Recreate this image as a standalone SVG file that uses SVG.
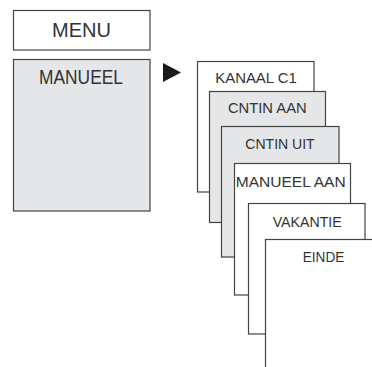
<svg xmlns="http://www.w3.org/2000/svg" width="372" height="367" viewBox="0 0 372 367">
<style>
.box{stroke:#444;stroke-width:1.2}
.w{fill:#ffffff}
.g{fill:#e5e6e8}
.t{font-family:"Liberation Sans",Arial,sans-serif;fill:#333;text-anchor:middle}
.big{font-size:19.5px}
.sm{font-size:15px}
</style>
<rect width="372" height="367" fill="#ffffff"/>
<g id="menu">
<rect class="box w" x="13.5" y="10.5" width="136.5" height="39.5"/>
<text class="t big" x="81.5" y="37.3" textLength="59" lengthAdjust="spacingAndGlyphs">MENU</text>
</g>
<g id="manueel">
<rect class="box g" x="13.5" y="59.5" width="136.5" height="151.5"/>
<text class="t big" x="81" y="84" textLength="84" lengthAdjust="spacingAndGlyphs">MANUEEL</text>
</g>
<g id="connectors">
<polygon points="163,63 181,72.5 163,82" fill="#1a1a1a"/>
</g>
<g id="kanaal-c1">
<rect class="box w" x="197.5" y="61.5" width="116.5" height="130.5"/>
<text class="t sm" x="256" y="82.7" textLength="81.5" lengthAdjust="spacingAndGlyphs">KANAAL C1</text>
</g>
<g id="cntin-aan">
<rect class="box g" x="209.5" y="91.5" width="116" height="131"/>
<text class="t sm" x="267.3" y="112.7" textLength="78.7" lengthAdjust="spacingAndGlyphs">CNTIN AAN</text>
</g>
<g id="cntin-uit">
<rect class="box g" x="221.5" y="126.5" width="117.5" height="130.5"/>
<text class="t sm" x="280" y="148.7" textLength="69.4" lengthAdjust="spacingAndGlyphs">CNTIN UIT</text>
</g>
<g id="manueel-aan">
<rect class="box w" x="234.5" y="163.5" width="116" height="131.5"/>
<text class="t sm" x="290.7" y="186.7" textLength="110" lengthAdjust="spacingAndGlyphs">MANUEEL AAN</text>
</g>
<g id="vakantie">
<rect class="box w" x="248.5" y="203.5" width="116.5" height="130.5"/>
<text class="t sm" x="307.2" y="226.7" textLength="69" lengthAdjust="spacingAndGlyphs">VAKANTIE</text>
</g>
<g id="einde">
<rect class="box w" x="265.5" y="239.5" width="117" height="131"/>
<text class="t sm" x="323.5" y="261.7" textLength="41.6" lengthAdjust="spacingAndGlyphs">EINDE</text>
</g>
</svg>
